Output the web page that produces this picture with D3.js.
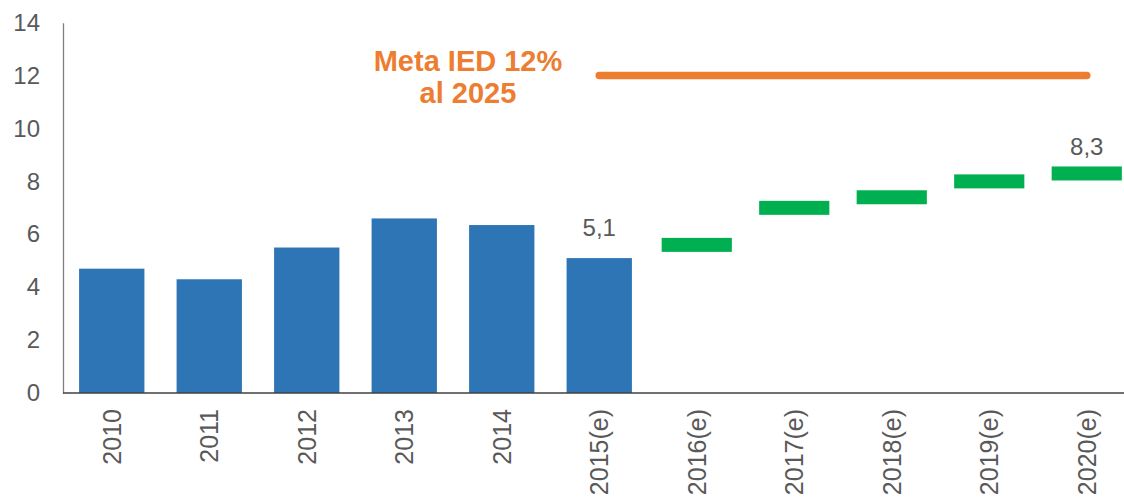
<!DOCTYPE html>
<html>
<head>
<meta charset="utf-8">
<script src="https://cdn.jsdelivr.net/npm/d3@7"></script>
<style>
  html, body { margin: 0; padding: 0; background: #fff; }
  svg { display: block; font-family: "Liberation Sans", Arial, sans-serif; }
</style>
</head>
<body>
<svg id="chart" width="1124" height="500"></svg>
<script>
// Categories (years; "(e)" = estimate)
const categories = ["2010", "2011", "2012", "2013", "2014", "2015(e)",
                    "2016(e)", "2017(e)", "2018(e)", "2019(e)", "2020(e)"];

// Observed / estimated values drawn as bars
const barYears  = ["2010", "2011", "2012", "2013", "2014", "2015(e)"];
const barValues = [4.7, 4.3, 5.5, 6.6, 6.35, 5.1];

// Projected values drawn as short horizontal markers
const projYears  = ["2016(e)", "2017(e)", "2018(e)", "2019(e)", "2020(e)"];
const projValues = [5.6, 7.0, 7.4, 8.0, 8.3];

// Target line: 12% from 2015 to 2020
const targetValue = 12;
const targetSpan  = ["2015(e)", "2020(e)"];
const targetText  = ["Meta IED 12%", "al 2025"];

// Values shown as data labels
const labelled = [
  { cat: "2015(e)", value: 5.1, text: "5,1", kind: "bar" },
  { cat: "2020(e)", value: 8.3, text: "8,3", kind: "proj" }
];

const yTicks = [0, 2, 4, 6, 8, 10, 12, 14];

const svg = d3.select("#chart");

const x = d3.scaleBand()
  .domain(categories)
  .range([63, 63 + 97.5 * categories.length])
  .paddingInner(0.33)
  .paddingOuter(0.165);

const y = d3.scaleLinear().domain([0, 14]).range([393, 22.7]);

const textGray = "#595959";

// Y axis
const yAxis = svg.append("g")
  .attr("transform", "translate(63,0)")
  .call(d3.axisLeft(y).tickValues(yTicks).tickSize(0).tickSizeOuter(0).tickPadding(23));
yAxis.select(".domain").attr("stroke", "#7f7f7f").attr("stroke-width", 1.3);
yAxis.selectAll("text")
  .attr("fill", textGray)
  .style("font-size", "24px")
  .style("font-family", "'Liberation Sans', Arial, sans-serif");

// Bars
svg.append("g").selectAll("rect")
  .data(barYears.map((c, i) => ({ c, v: barValues[i] })))
  .join("rect")
  .attr("x", d => x(d.c))
  .attr("width", x.bandwidth())
  .attr("y", d => y(d.v))
  .attr("height", d => y(0) - y(d.v))
  .attr("fill", "#2E75B6");

// Projection markers
const markW = x.step() * 0.72;
const markH = 14;
svg.append("g").selectAll("rect")
  .data(projYears.map((c, i) => ({ c, v: projValues[i] })))
  .join("rect")
  .attr("x", d => x(d.c) + x.bandwidth() / 2 - markW / 2)
  .attr("width", markW)
  .attr("y", d => y(d.v) - markH / 2)
  .attr("height", markH)
  .attr("fill", "#00B050");

// X axis baseline
svg.append("line")
  .attr("x1", 63).attr("x2", 1124)
  .attr("y1", y(0)).attr("y2", y(0))
  .attr("stroke", "#404040").attr("stroke-width", 1.5);

// X tick labels (vertical)
svg.append("g").selectAll("text")
  .data(categories)
  .join("text")
  .attr("transform", d => `translate(${x(d) + x.bandwidth() / 2},409) rotate(-90)`)
  .attr("text-anchor", "end")
  .attr("dy", "0.35em")
  .attr("fill", textGray)
  .style("font-size", "25px")
  .text(d => d);

// Target line
const cx = c => x(c) + x.bandwidth() / 2;
svg.append("line")
  .attr("x1", cx(targetSpan[0])).attr("x2", cx(targetSpan[1]))
  .attr("y1", y(targetValue)).attr("y2", y(targetValue))
  .attr("stroke", "#ED7D31").attr("stroke-width", 7.5)
  .attr("stroke-linecap", "round");

svg.append("g").selectAll("text")
  .data(targetText)
  .join("text")
  .attr("x", 468)
  .attr("y", (d, i) => 71 + i * 32)
  .attr("text-anchor", "middle")
  .attr("fill", "#ED7D31")
  .style("font-size", "29px")
  .style("font-weight", "bold")
  .text(d => d);

// Data labels
svg.append("g").selectAll("text")
  .data(labelled)
  .join("text")
  .attr("x", d => cx(d.cat))
  .attr("y", d => d.kind === "bar" ? y(d.value) - 22 : y(d.value) - 18.5)
  .attr("text-anchor", "middle")
  .attr("fill", textGray)
  .style("font-size", "24px")
  .text(d => d.text);
</script>
</body>
</html>
